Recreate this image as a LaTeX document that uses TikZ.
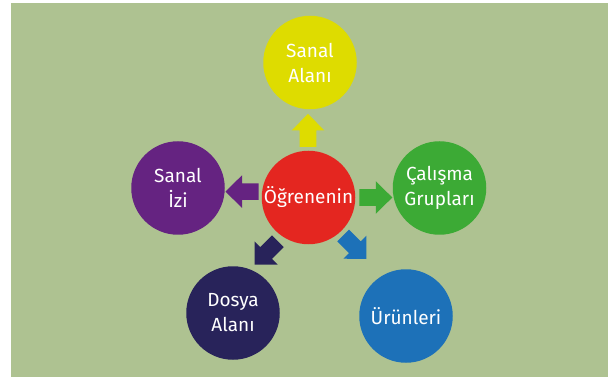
\documentclass[tikz,border=0pt]{standalone}
\usepackage{fontspec}
\setmainfont{Fira Sans}
\definecolor{bgc}{RGB}{174,194,145}
\definecolor{ylwc}{RGB}{222,220,0}
\definecolor{redc}{RGB}{228,38,32}
\definecolor{purc}{RGB}{101,35,129}
\definecolor{grnc}{RGB}{60,170,53}
\definecolor{navc}{RGB}{40,35,90}
\definecolor{bluc}{RGB}{29,113,184}
\newcommand\blockarrow[3]{%
  \fill[#1, shift={#2}, rotate=#3] (-16.5,-8.3) -- (0,-8.3) -- (0,-16.3) -- (16.5,0)
    -- (0,16.3) -- (0,8.3) -- (-16.5,8.3) -- cycle;}
\begin{document}
\begin{tikzpicture}[x=1pt, y=-1pt,
  bubble/.style={circle, draw=none, minimum size=93.5pt, inner sep=0pt,
    text=white, align=center, font=\fontsize{19}{25}\selectfont}]
\useasboundingbox (0,0) rectangle (615,379);
\fill[bgc] (11,3) rectangle (608,377);
\node[bubble, fill=ylwc] (sanalalan) at (310,62.5) {Sanal\\Alanı};
\node[bubble, fill=redc] (ogrenen) at (308.5,197.5) {Öğrenenin};
\node[bubble, fill=purc] (sanaliz) at (178,188) {Sanal\\İzi};
\node[bubble, fill=grnc] (calisma) at (439.5,188) {Çalışma\\Grupları};
\node[bubble, fill=navc] (dosya) at (233,313) {Dosya\\Alanı};
\node[bubble, fill=bluc] (urun) at (406,316) {Ürünleri};
\blockarrow{ylwc}{(308,130.4)}{90}
\blockarrow{purc}{(242,191.6)}{180}
\blockarrow{grnc}{(375.8,197.5)}{0}
\blockarrow{navc}{(266.2,253)}{225}
\blockarrow{bluc}{(354.8,247.2)}{-45}
\end{tikzpicture}
\end{document}
